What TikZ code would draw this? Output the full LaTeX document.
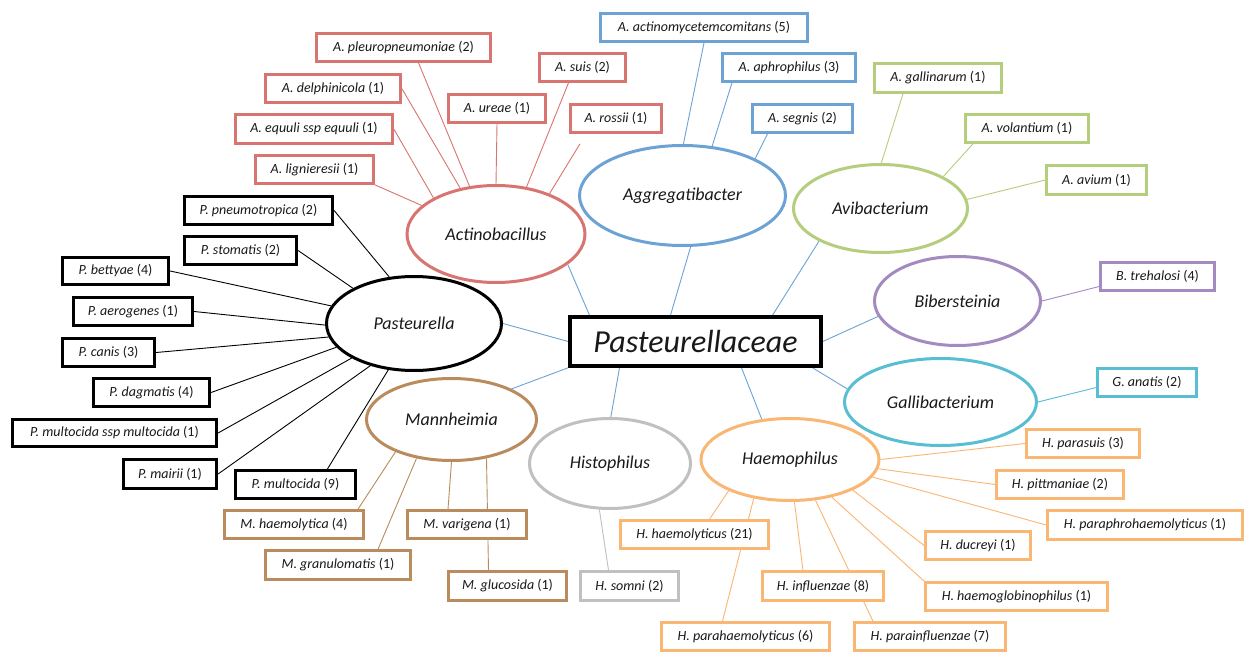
\documentclass[tikz,border=0pt]{standalone}
\usepackage{fontspec}
\setmainfont{Carlito}
\usetikzlibrary{backgrounds,shapes.geometric}
\definecolor{cR}{RGB}{217,117,112}
\definecolor{cB}{RGB}{108,163,212}
\definecolor{cG}{RGB}{181,206,125}
\definecolor{cP}{RGB}{163,138,192}
\definecolor{cC}{RGB}{88,190,210}
\definecolor{cO}{RGB}{250,182,115}
\definecolor{cN}{RGB}{186,139,92}
\definecolor{cY}{RGB}{192,192,192}
\definecolor{txt}{RGB}{25,25,25}
\begin{document}
\begin{tikzpicture}[x=1pt,y=-1pt,
  sp/.style={draw=#1, line width=2.6pt, fill=white, inner sep=0pt, text=txt,
    font=\fontsize{14}{16}\selectfont},
  spk/.style={sp=black, line width=3.2pt},
  gen/.style={draw=#1, ellipse, line width=3pt, fill=white, inner sep=0pt, text=txt,
    font=\fontsize{18}{20}\selectfont\itshape},
  lnk/.style={draw=#1, line width=0.9pt},
  sz/.style 2 args={minimum width=#1pt, minimum height=#2pt}]
\useasboundingbox (0,0) rectangle (1254,653);

% central box
\node[draw=black, line width=3.5pt, fill=white, inner sep=0pt, text=txt, sz={251}{49},
  font=\fontsize{32}{36}\selectfont\itshape] (pc) at (695.5,341.5) {Pasteurellaceae};

% genera
\node[gen=cR, sz={178}{97}] (act) at (496,234) {Actinobacillus};
\node[gen=cB, sz={206}{100}] (agg) at (682.5,195.5) {Aggregatibacter};
\node[gen=cG, sz={174}{88}] (avi) at (880.5,208.5) {Avibacterium};
\node[gen=cP, sz={166}{89}] (bib) at (957.5,301) {Bibersteinia};
\node[gen=cC, sz={192}{87}] (gal) at (940.5,402) {Gallibacterium};
\node[gen=cO, sz={178}{82}] (hae) at (790,459.5) {Haemophilus};
\node[gen=cY, sz={161}{90}] (his) at (610,463.5) {Histophilus};
\node[gen=cN, sz={170}{82}] (man) at (451.5,419.5) {Mannheimia};
\node[gen=black, sz={175}{94}] (pas) at (414,323.5) {Pasteurella};

% Actinobacillus species
\node[sp=cR, sz={174}{28}] (pleuro) at (403.5,47.5) {\textit{A. pleuropneumoniae} (2)};
\node[sp=cR, sz={135}{28}] (delph) at (333,88.5) {\textit{A. delphinicola} (1)};
\node[sp=cR, sz={157}{29}] (equuli) at (314,129) {\textit{A. equuli ssp equuli} (1)};
\node[sp=cR, sz={118}{28}] (lign) at (314.5,169.5) {\textit{A. lignieresii} (1)};
\node[sp=cR, sz={97}{28}] (ureae) at (497,108.5) {\textit{A. ureae} (1)};
\node[sp=cR, sz={86}{28}] (suis) at (582.5,67.5) {\textit{A. suis} (2)};
\node[sp=cR, sz={91}{28}] (rossii) at (616,118.5) {\textit{A. rossii} (1)};

% Aggregatibacter species
\node[sp=cB, sz={207}{28}] (actino) at (704,27.5) {\textit{A. actinomycetemcomitans} (5)};
\node[sp=cB, sz={133}{28}] (aphro) at (789,67.5) {\textit{A. aphrophilus} (3)};
\node[sp=cB, sz={100}{28}] (segnis) at (802.5,118.5) {\textit{A. segnis} (2)};

% Avibacterium species
\node[sp=cG, sz={127}{29}] (gallin) at (938,78) {\textit{A. gallinarum} (1)};
\node[sp=cG, sz={123}{28}] (volant) at (1027,128.5) {\textit{A. volantium} (1)};
\node[sp=cG, sz={100}{29}] (avium) at (1096.5,180) {\textit{A. avium} (1)};

% Bibersteinia, Gallibacterium
\node[sp=cP, sz={114}{28}] (trehal) at (1157.5,276.5) {\textit{B. trehalosi} (4)};
\node[sp=cC, sz={99}{28}] (anatis) at (1147,382.5) {\textit{G. anatis} (2)};

% Haemophilus species
\node[sp=cO, sz={113}{28}] (parasuis) at (1083,443.5) {\textit{H. parasuis} (3)};
\node[sp=cO, sz={127}{28}] (pittman) at (1060,484.5) {\textit{H. pittmaniae} (2)};
\node[sp=cO, sz={195}{29}] (paraphro) at (1145,525) {\textit{H. paraphrohaemolyticus} (1)};
\node[sp=cO, sz={105}{28}] (ducreyi) at (978,545.5) {\textit{H. ducreyi} (1)};
\node[sp=cO, sz={182}{28}] (haemoglob) at (1016.5,596.5) {\textit{H. haemoglobinophilus} (1)};
\node[sp=cO, sz={151}{28}] (parainfl) at (930,636.5) {\textit{H. parainfluenzae} (7)};
\node[sp=cO, sz={121}{29}] (influenz) at (823,586) {\textit{H. influenzae} (8)};
\node[sp=cO, sz={148}{28}] (hhaem) at (694.5,534.5) {\textit{H. haemolyticus} (21)};
\node[sp=cO, sz={168}{28}] (parahaem) at (745.5,636.5) {\textit{H. parahaemolyticus} (6)};

% Histophilus species
\node[sp=cY, sz={98}{29}] (somni) at (629.5,586) {\textit{H. somni} (2)};

% Mannheimia species
\node[sp=cN, sz={119}{28}] (varig) at (467,524.5) {\textit{M. varigena} (1)};
\node[sp=cN, sz={118}{29}] (glucos) at (507.5,586) {\textit{M. glucosida} (1)};
\node[sp=cN, sz={139}{28}] (mhaem) at (294,524.5) {\textit{M. haemolytica} (4)};
\node[sp=cN, sz={145}{29}] (granul) at (338,565) {\textit{M. granulomatis} (1)};

% Pasteurella species
\node[spk, sz={148}{28}] (pneumo) at (258.5,210.5) {\textit{P. pneumotropica} (2)};
\node[spk, sz={112}{28}] (stomatis) at (240.5,250.5) {\textit{P. stomatis} (2)};
\node[spk, sz={106}{27}] (bettyae) at (115.5,271) {\textit{P. bettyae} (4)};
\node[spk, sz={119}{28}] (aerog) at (133,311.5) {\textit{P. aerogenes} (1)};
\node[spk, sz={92}{28}] (canis) at (108.5,352.5) {\textit{P. canis} (3)};
\node[spk, sz={116}{28}] (dagm) at (151.5,392.5) {\textit{P. dagmatis} (4)};
\node[spk, sz={204}{27}] (multssp) at (114.5,433) {\textit{P. multocida ssp multocida} (1)};
\node[spk, sz={93}{29}] (mairii) at (170,474) {\textit{P. mairii} (1)};
\node[spk, sz={120}{28}] (multoc) at (295.5,484.5) {\textit{P. multocida} (9)};

\begin{scope}[on background layer]
\fill[white] (0,0) rectangle (1254,653);
% center links
\draw[lnk=cB] ([xshift=-106pt]pc.north) -- (act.-23);
\draw[lnk=cB] ([xshift=-25pt]pc.north) -- (agg.-81);
\draw[lnk=cB] ([xshift=77pt]pc.north) -- (avi.-152);
\draw[lnk=cB] (pc.east) -- (bib.191);
\draw[lnk=cB] ([xshift=117pt]pc.south) -- (gal.172);
\draw[lnk=cB] ([xshift=46pt]pc.south) -- (hae.125);
\draw[lnk=cB] ([xshift=-76pt]pc.south) -- (his.89);
\draw[lnk=cB] (pc.south west) -- (man.27);
\draw[lnk=cB] (pc.west) -- (pas.0);
% Actinobacillus
\draw[lnk=cR] ([xshift=15pt]pleuro.south) -- (act.119);
\draw[lnk=cR] (delph.east) -- (act.128);
\draw[lnk=cR] (equuli.east) -- (act.150);
\draw[lnk=cR] (lign.south east) -- (act.159);
\draw[lnk=cR] (ureae.south) -- (act.90);
\draw[lnk=cR] ([xshift=-14pt]suis.south) -- (act.57);
\draw[lnk=cR] ([xshift=-36pt,yshift=-10pt]rossii.south) -- (act.37);
% Aggregatibacter
\draw[lnk=cB] (actino.south) -- (agg.89);
\draw[lnk=cB] ([xshift=-57pt]aphro.south) -- (agg.59.5);
\draw[lnk=cB] ([xshift=-35pt]segnis.south) -- (agg.27);
% Avibacterium
\draw[lnk=cG] ([xshift=-35pt]gallin.south) -- (avi.89);
\draw[lnk=cG] ([xshift=-54pt]volant.south) -- (avi.27);
\draw[lnk=cG] (avium.west) -- (avi.6.5);
% Bibersteinia, Gallibacterium
\draw[lnk=cP] ([yshift=-10pt]trehal.west) -- (bib.0);
\draw[lnk=cC] ([yshift=-5pt]anatis.west) -- (gal.0);
% Haemophilus
\draw[lnk=cO] (parasuis.west) -- (hae.0.6);
\draw[lnk=cO] (pittman.west) -- (hae.-6.5);
\draw[lnk=cO] (paraphro.west) -- (hae.-12.7);
\draw[lnk=cO] (ducreyi.west) -- (hae.-26.6);
\draw[lnk=cO] (haemoglob.north west) -- (hae.-42);
\draw[lnk=cO] ([xshift=-57pt]parainfl.north) -- (hae.-58);
\draw[lnk=cO] ([xshift=-20pt]influenz.north) -- (hae.-84);
\draw[lnk=cO] ([xshift=-23pt]parahaem.north) -- (hae.-133);
\draw[lnk=cO] ([xshift=15pt]hhaem.north) -- (hae.-153);
% Histophilus
\draw[lnk=cY] ([xshift=-21pt]somni.north) -- (his.-103);
% Mannheimia
\draw[lnk=cN] ([xshift=-19pt]varig.north) -- (man.-90);
\draw[lnk=cN] ([xshift=-19pt]glucos.north) -- (man.-48);
\draw[lnk=cN] ([xshift=64pt]mhaem.north) -- (man.-150);
\draw[lnk=cN] ([xshift=40pt]granul.north) -- (man.-132);
% Pasteurella
\draw[lnk=black] (pneumo.east) -- (pas.118);
\draw[lnk=black] (stomatis.east) -- (pas.150);
\draw[lnk=black] (bettyae.east) -- (pas.168);
\draw[lnk=black] (aerog.east) -- (pas.181);
\draw[lnk=black] (canis.east) -- (pas.189);
\draw[lnk=black] (dagm.east) -- (pas.197);
\draw[lnk=black] (multssp.east) -- (pas.209);
\draw[lnk=black] (mairii.east) -- (pas.224);
\draw[lnk=black] ([xshift=32pt]multoc.north) -- (pas.241);
\end{scope}
\end{tikzpicture}
\end{document}
